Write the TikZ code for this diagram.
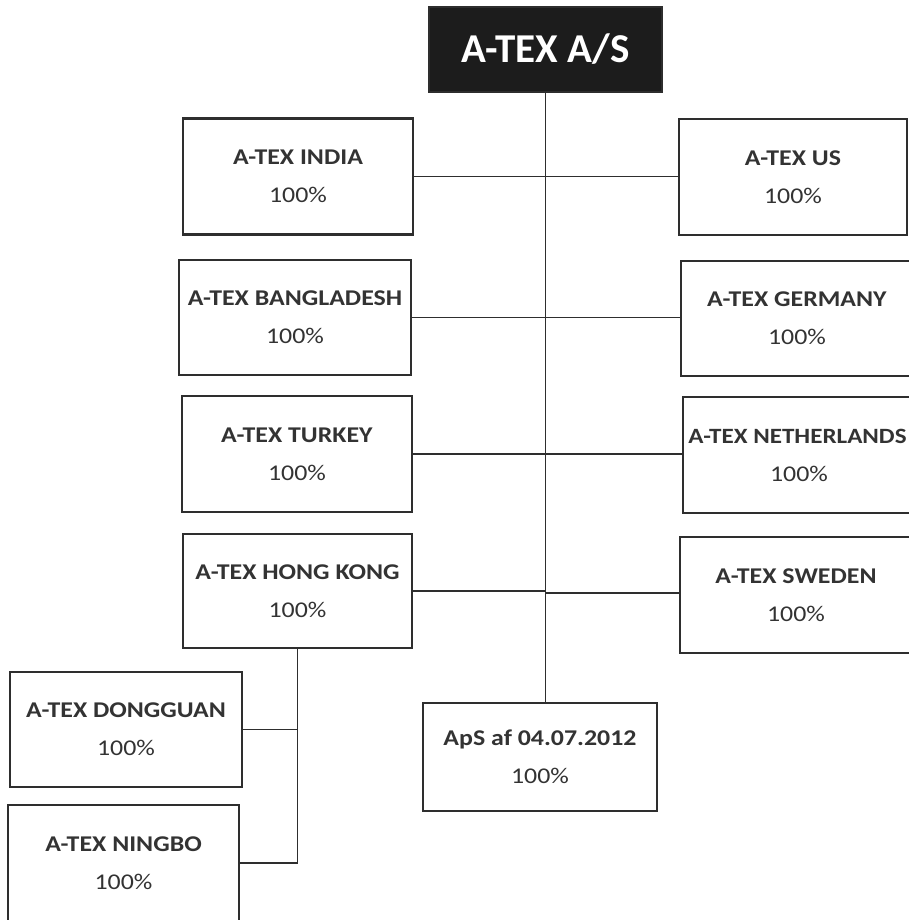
\documentclass[tikz,border=0pt]{standalone}
\usepackage{fontspec}
\setmainfont{Carlito}
\newfontfamily\boxfont{Carlito}[FakeStretch=1.15]
\definecolor{linec}{HTML}{2E2E2E}
\definecolor{textc}{HTML}{333333}
\definecolor{topfill}{HTML}{1C1C1C}
\begin{document}
\begin{tikzpicture}[x=1pt,y=-1pt,
  orgbox/.style={draw=linec, line width=2.8pt, fill=white, inner sep=0pt,
    minimum width=230pt, minimum height=116pt, align=center, text=textc,
    font=\boxfont\fontsize{22.5}{38}\selectfont},
  rightbox/.style={orgbox, minimum width=232pt},
  topbox/.style={draw=linec, line width=1.5pt, fill=topfill, text=white, inner sep=0pt,
    minimum width=233pt, minimum height=85pt, font=\bfseries\fontsize{41}{45}\selectfont},
  link/.style={draw=linec, line width=1.7pt}
]
\useasboundingbox (0,0) rectangle (909,920);
\fill[white] (0,0) rectangle (909,920);
\clip (0,0) rectangle (909,920);

\node[topbox] (top) at (545.5,49.5) {A-TEX A/S};

% trunk drawn first so boxes sit on it cleanly
\node[orgbox, minimum width=234pt, minimum height=108pt] (aps) at (540,757) {\textbf{ApS af 04.07.2012}\\100\%};
\draw[link] (top.south) -- (top.south |- aps.north);

\node[orgbox] (india) at (298,176.5) {\textbf{A-TEX INDIA}\\100\%};
\node[orgbox, minimum width=228pt] (us) at (793,177) {\textbf{A-TEX US}\\100\%};
\node[orgbox, minimum width=232pt, minimum height=115pt] (bangladesh) at (295,317.5) {\textbf{A-TEX BANGLADESH}\\100\%};
\node[rightbox, minimum height=115pt] (germany) at (797,318.5) {\textbf{A-TEX GERMANY}\\100\%};
\node[orgbox] (turkey) at (297,454) {\textbf{A-TEX TURKEY}\\100\%};
\node[rightbox] (netherlands) at (799,455) {\hspace*{-3pt}{\fontsize{21.8}{38}\selectfont\textbf{A-TEX NETHERLANDS}}\\100\%};
\node[orgbox, minimum width=229pt, minimum height=114pt] (hongkong) at (297.5,591) {\textbf{A-TEX HONG KONG}\\100\%};
\node[rightbox] (sweden) at (796,595) {\textbf{A-TEX SWEDEN}\\100\%};
\node[orgbox, minimum width=232pt, minimum height=115pt] (dongguan) at (126,729.5) {\textbf{A-TEX DONGGUAN}\\100\%};
\node[orgbox, minimum width=231pt] (ningbo) at (123.5,863) {\textbf{A-TEX NINGBO}\\100\%};

% branches
\draw[link] (india.east) -- (india.east -| us.west);
\draw[link] (bangladesh.east) -- (bangladesh.east -| germany.west);
\draw[link] (turkey.east) -- (turkey.east -| netherlands.west);
\draw[link] (hongkong.east) -- (hongkong.east -| top.south);
\draw[link] (hongkong.east -| top.south) -- ([yshift=2pt]sweden.west -| top.south) -- ([yshift=2pt]sweden.west);
% Hong Kong subsidiaries
\draw[link] (hongkong.south) -- (hongkong.south |- ningbo.east) -- (ningbo.east);
\draw[link] (dongguan.east) -- (dongguan.east -| hongkong.south);
\end{tikzpicture}
\end{document}
